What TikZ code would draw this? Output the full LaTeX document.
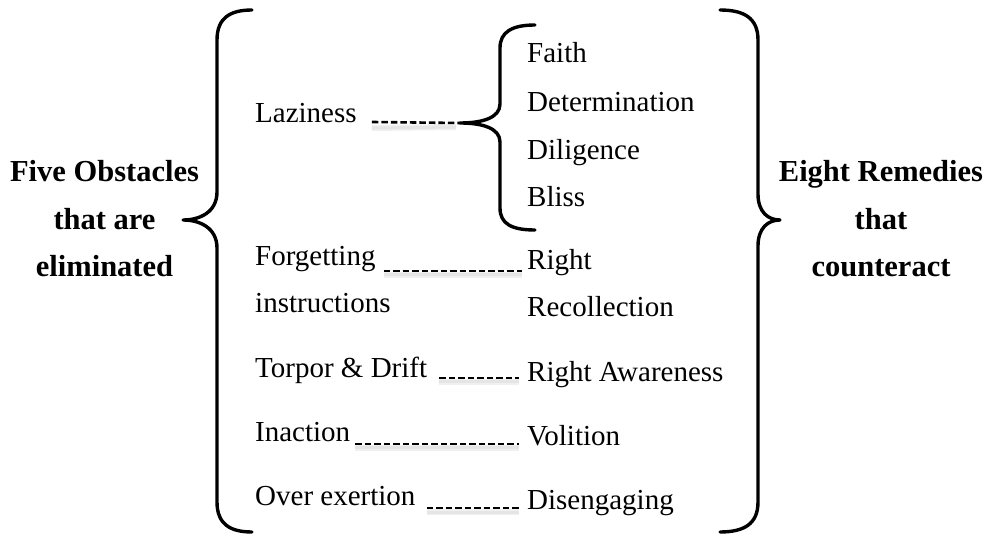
\documentclass[tikz,border=0pt]{standalone}
\usepackage{fontspec}
\setmainfont{Liberation Serif}
\begin{document}
\begin{tikzpicture}[x=1pt,y=-1pt,
  txt/.style={inner sep=0pt,anchor=base west,font=\fontsize{29}{35}\selectfont},
  lbl/.style={inner sep=0pt,anchor=base,font=\fontsize{30.5}{36}\selectfont\bfseries},
  brace/.style={line width=3.4pt,line cap=round,line join=round},
  dl/.style={line width=2.6pt,dash pattern=on 6.5pt off 3pt},
  dlshadow/.style={line width=6pt,draw=black!6,
    postaction={draw=black!10,line width=3pt}}]
\useasboundingbox (0,0) rectangle (997,537);
\fill[white] (0,0) rectangle (997,537);

% side labels
\node[lbl] (l1) at (104.5,182) {Five Obstacles};
\node[lbl] (l2) at (104.5,230) {that are};
\node[lbl] (l3) at (104.5,277) {eliminated};
\node[lbl] (r1) at (881,182) {Eight Remedies};
\node[lbl] (r2) at (881,230) {that};
\node[lbl] (r3) at (881,277) {counteract};

% big braces
\draw[brace] (252,10) .. controls (230,10) and (217,18) .. (217,40) -- (217,192)
  .. controls (217,212) and (200,220) .. (183,220)
  .. controls (200,220) and (217,228) .. (217,248) -- (217,502)
  .. controls (217,524) and (230,532) .. (252,532);
\draw[brace] (720,10) .. controls (744,10) and (758,18) .. (758,40) -- (758,194)
  .. controls (758,212) and (768,220) .. (780,220)
  .. controls (768,220) and (758,228) .. (758,246) -- (758,502)
  .. controls (758,524) and (744,532) .. (720,532);

% inner brace
\coordinate (tip) at (460,123);
\draw[brace] (535,25) .. controls (512,25) and (500,32) .. (500,48) -- (500,104)
  .. controls (500,118) and (482,123) .. (tip)
  .. controls (482,123) and (500,128) .. (500,142) -- (500,208)
  .. controls (500,224) and (512,230) .. (535,230);

% left column
\node[txt] (laz) at (255,123) {Laziness};
\node[txt] (forg) at (255,266) {Forgetting};
\node[txt] (instr) at (255,313) {instructions};
\node[txt] (torp) at (255,378) {Torpor \& Drift};
\node[txt] (inac) at (255,442) {Inaction};
\node[txt] (over) at (255,506) {Over exertion};

% right column
\node[txt] (faith) at (527,63) {Faith};
\node[txt] (det) at (527,112) {Determination};
\node[txt] (dil) at (527,160) {Diligence};
\node[txt] (bliss) at (527,207) {Bliss};
\node[txt] (right) at (527,270) {Right};
\node[txt] (recol) at (527,317) {Recollection};
\node[txt] (aware) at (527,382) {Right Awareness};
\node[txt] (voli) at (527,446) {Volition};
\node[txt] (dise) at (527,510) {Disengaging};

% dashed connectors (soft shadow first)
\draw[dlshadow] ([xshift=15pt,yshift=-5pt]laz.base east) -- ([xshift=-4pt,yshift=-4pt]tip);
\draw[dlshadow] ([xshift=8pt,yshift=-9pt]forg.base east) -- ([xshift=-5pt,yshift=-5pt]right.base west);
\draw[dlshadow] ([xshift=12pt,yshift=-4pt]torp.base east) -- ([xshift=-8pt,yshift=-0pt]aware.base west);
\draw[dlshadow] ([xshift=5pt,yshift=-6pt]inac.base east) -- ([xshift=-8pt,yshift=-2pt]voli.base west);
\draw[dlshadow] ([xshift=11pt,yshift=-6pt]over.base east) -- ([xshift=-8pt,yshift=-2pt]dise.base west);

\draw[dl] ([xshift=15pt,yshift=1pt]laz.base east) -- (tip);
\draw[dl] ([xshift=8pt,yshift=-5pt]forg.base east) -- ([xshift=-5pt,yshift=-1pt]right.base west);
\draw[dl] ([xshift=12pt]torp.base east) -- ([xshift=-8pt,yshift=4pt]aware.base west);
\draw[dl] ([xshift=5pt,yshift=-2pt]inac.base east) -- ([xshift=-8pt,yshift=2pt]voli.base west);
\draw[dl] ([xshift=11pt,yshift=-2pt]over.base east) -- ([xshift=-8pt,yshift=2pt]dise.base west);
\end{tikzpicture}
\end{document}
